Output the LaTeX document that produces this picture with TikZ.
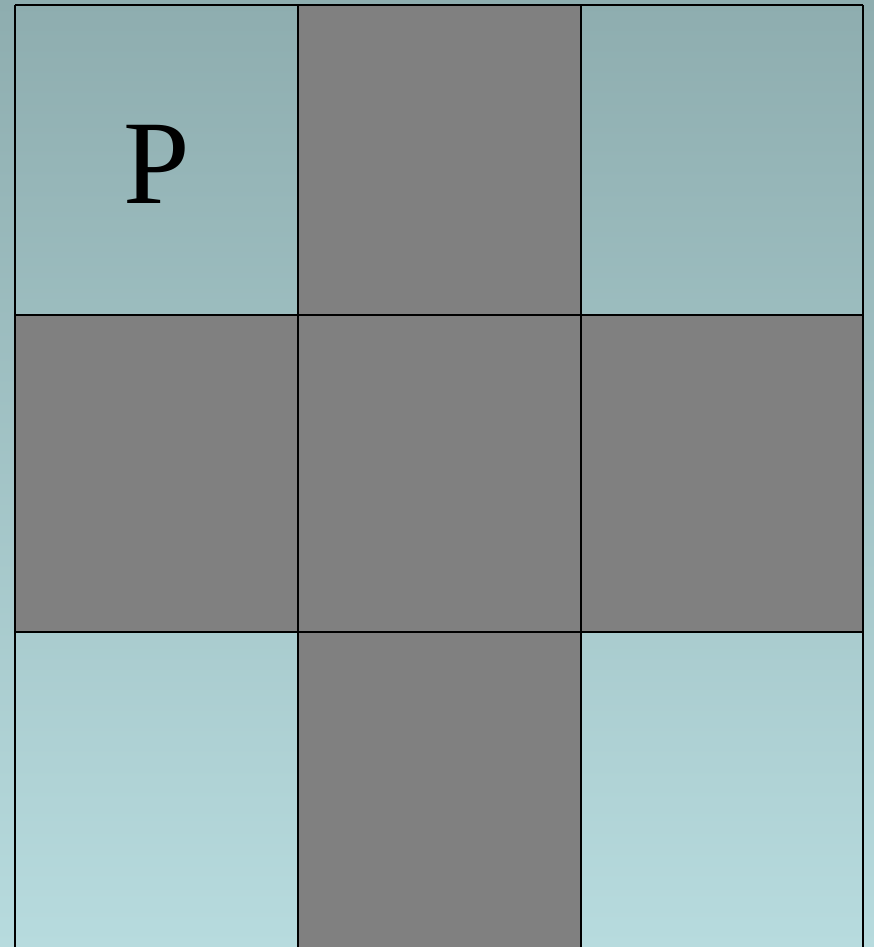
\documentclass[tikz,border=0pt]{standalone}
\usepackage{fontspec}
\setmainfont{Liberation Serif}
\usetikzlibrary{calc}
\definecolor{BgTop}{RGB}{142,173,175}
\definecolor{BgBot}{RGB}{183,219,222}
\definecolor{CellClr}{RGB}{128,128,128}

\begin{document}
\begin{tikzpicture}[x=0.02cm,y=-0.02cm]
\clip (0,0) rectangle (874,947);
\shade[top color=BgTop,bottom color=BgBot] (0,0) rectangle (874,947);

% blocked cells
\foreach \xa/\ya/\xb/\yb in {298/5/581/315, 15/315/298/632, 298/315/581/632, 581/315/863/632, 298/632/581/960}
  \fill[CellClr] (\xa,\ya) rectangle (\xb,\yb);

% grid
\foreach \x in {15,298,581,863}
  \draw[line width=1.5pt] (\x,5) -- (\x,960);
\foreach \y in {5,315,632}
  \draw[line width=1.5pt] (15,\y) -- (863,\y);

\node[font=\fontsize{68}{68}\selectfont] (P) at (156.5,164) {P};

\end{tikzpicture}
\end{document}
